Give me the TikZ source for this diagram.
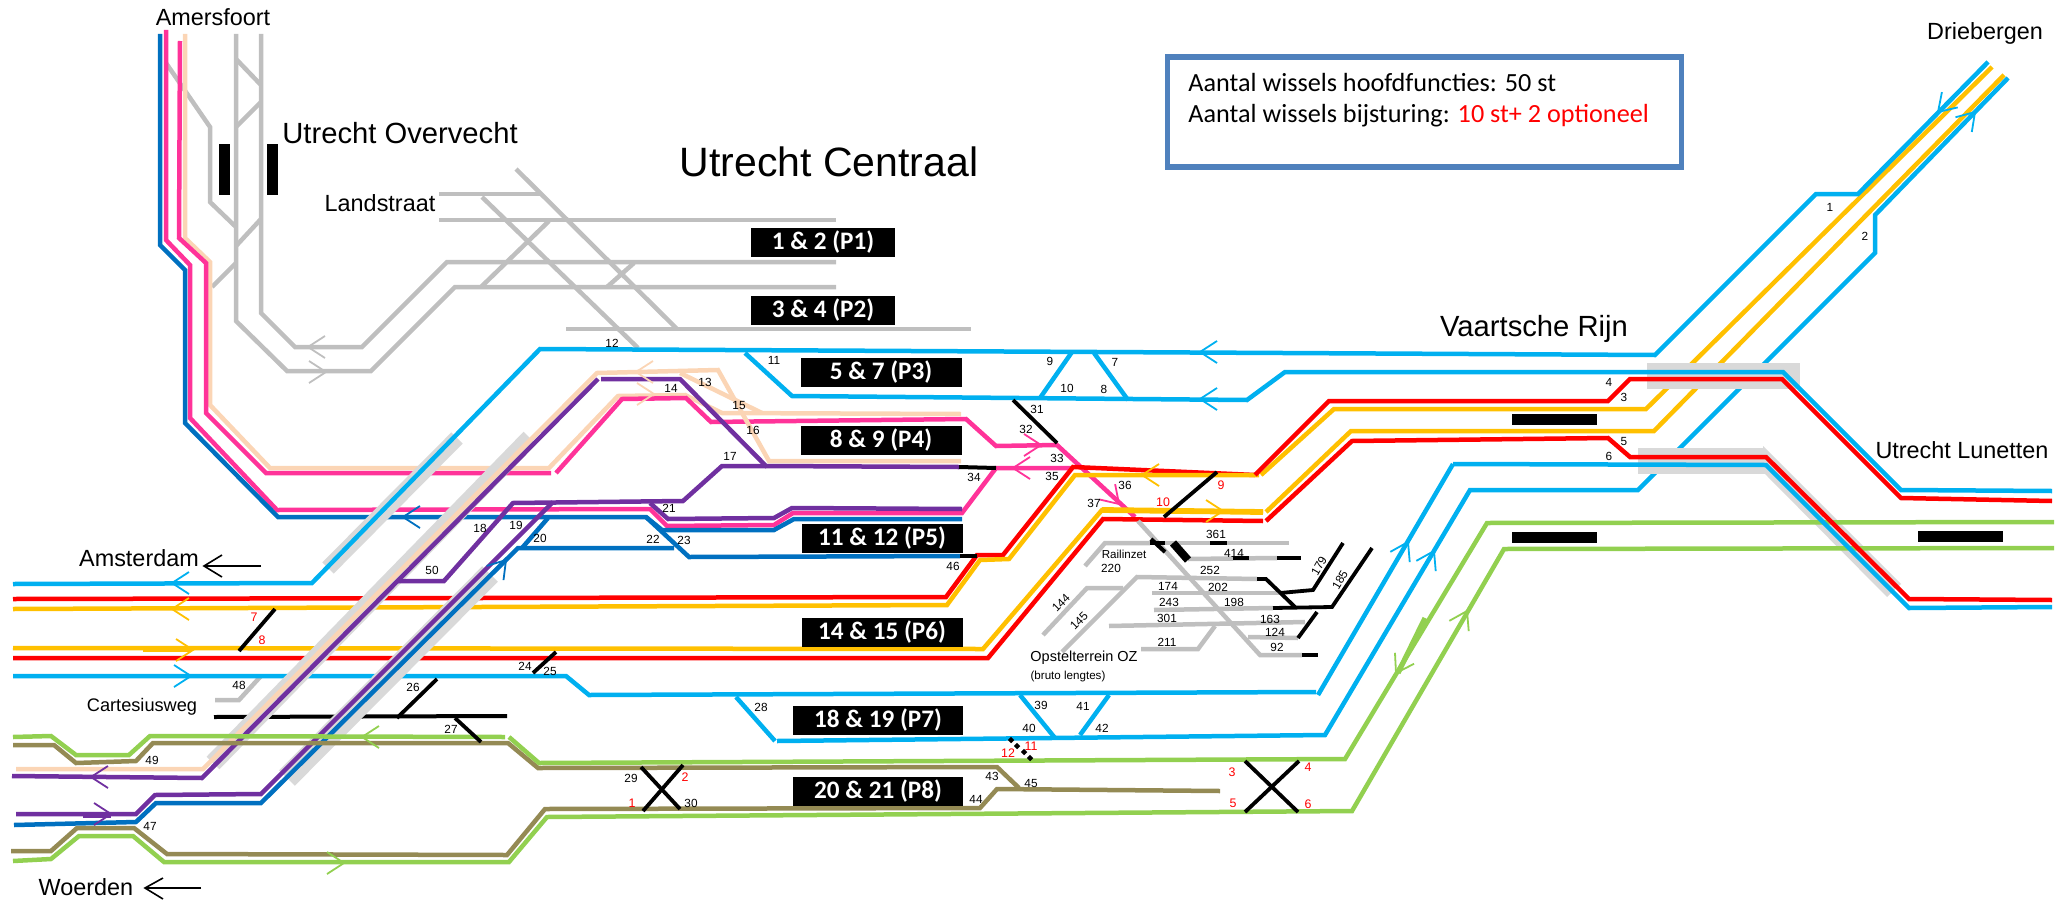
\documentclass[tikz,border=0pt]{standalone}
\usepackage{fontspec}
\usetikzlibrary{shapes.geometric}
\setmainfont{Liberation Sans}
\newfontfamily\calfont{Carlito}
\definecolor{lblue}{HTML}{00B0F0}
\definecolor{dblue}{HTML}{0070C0}
\definecolor{rose}{HTML}{FF3399}
\definecolor{peach}{HTML}{FBD5B5}
\definecolor{paars}{HTML}{7030A0}
\definecolor{rood}{HTML}{FF0000}
\definecolor{geel}{HTML}{FFC000}
\definecolor{groen}{HTML}{92D050}
\definecolor{olijf}{HTML}{948A54}
\definecolor{spoor}{HTML}{BFBFBF}
\definecolor{band}{HTML}{D9D9D9}
\definecolor{kader}{HTML}{4F81BD}

\begin{document}
\begin{tikzpicture}
	[x=0.5pt,y=-0.5pt,line join=miter,
		track/.style={line width=2.25pt},
		wissel/.style={line width=1.9pt,black},
		chevron/.style={line width=0.9pt},
		num/.style={inner sep=0pt,font=\fontsize{5.9}{7}\selectfont},
		rednum/.style={inner sep=0pt,text=rood,font=\fontsize{6.2}{7}\selectfont},
		place/.style={inner sep=0pt,font=\fontsize{11.7}{14}\selectfont},
		platform/.style={fill=black,text=white,inner sep=0pt,minimum height=14.5pt,font=\calfont\bfseries\fontsize{12.6}{15}\selectfont},
		halte/.style={fill=black,inner sep=0pt,minimum width=42.5pt,minimum height=5.5pt},
		diam/.style={diamond,fill=black,inner sep=0pt,minimum size=3.4pt}]
	\useasboundingbox (0,0) rectangle (2065,899);

	% grey tracks at the top
	\draw[spoor,track] (236,34) -- (236,321) -- (287,371) -- (371,371) -- (455,287) -- (836,287);
	\draw[spoor,track] (261,34) -- (261,313) -- (295,347) -- (362,347) -- (447,262) -- (836,262);
	\draw[spoor,track] (166,63) -- (210,127) -- (210,202) -- (236,227);
	\draw[spoor,track] (236,59) -- (261,85);
	\draw[spoor,track] (236,127) -- (261,102);
	\draw[spoor,track] (236,246) -- (261,219);
	\draw[spoor,track] (236,263) -- (212,287);
	\draw[spoor,track] (439,194) -- (540,194);
	\draw[spoor,track] (439,220) -- (836,220);
	\draw[spoor,track] (566,329) -- (971,329);
	\draw[spoor,track] (516,169) -- (677,329);
	\draw[spoor,track] (482,197) -- (638,348);
	\draw[spoor,track] (549,221) -- (481,287);
	\draw[spoor,track] (634,263) -- (607,287);
	\draw[spoor,track] (215,700) -- (239,700) -- (261,676);

	% lines that run under the grey bands
	\draw[peach,track] (185,34) -- (185,238) -- (210,262) -- (210,405) -- (270,468) -- (549,468) -- (618,396) -- (685,395) -- (722,413) -- (961,414);
	\draw[rose,track] (166,30) -- (166,240) -- (190,265) -- (190,418) -- (277,510) -- (650,509) -- (667,526) -- (774,525) -- (793,513) -- (962,513) -- (996,468) -- (1073,468);
	\draw[rose,track] (180,41) -- (179,238) -- (206,263) -- (206,413) -- (266,473) -- (551,473);
	\draw[rose,track] (556,473) -- (622,399) -- (686,398) -- (711,422) -- (966,419) -- (996,446) -- (1057,445) -- (1135,517);
	\draw[dblue,track] (160,34) -- (160,245) -- (185,270) -- (185,423) -- (278,517) -- (646,517) -- (689,557) -- (960,556);
	\draw[dblue,track] (646,517) -- (662,530) -- (774,530) -- (794,519) -- (962,519);
	\draw[rood,track] (13,599) -- (946,597) -- (977,555) -- (1003,555) -- (1073,467) -- (1255,475);
	\draw[rood,track] (13,658) -- (988,658) -- (1103,519) -- (1263,521);
	\draw[geel,track] (13,609) -- (947,605) -- (980,560) -- (1009,559) -- (1075,475) -- (1259,475);
	\draw[geel,track] (13,648) -- (983,649) -- (1102,510) -- (1263,512);
	\draw[geel,track] (1261,475) -- (1334,409) -- (1646,409) -- (1992,67);
	\draw[geel,track] (1266,512) -- (1351,431) -- (1654,431) -- (2004,75);
	\draw[lblue,track] (13,676) -- (566,676) -- (589,695) -- (1316,692);
	\draw[lblue,track] (1318,695) -- (1453,464);
	\draw[lblue,track] (777,741) -- (1325,735) -- (1470,490) -- (1638,490) -- (1875,253) -- (1875,215) -- (2008,78);
	\draw[black,line width=2pt] (214,717) -- (507,716);

	% grey bands
	\draw[band,line width=8pt] (328,568) -- (457,438);
	\draw[band,line width=9pt] (213,763) -- (530,438);
	\draw[band,line width=11pt] (287,778) -- (490,574);
	\fill[band] (1647,363) rectangle (1800,389);
	\fill[band] (1638,448) rectangle (1765,474);
	\fill[band] (1763,446) -- (1901,584) -- (1887,597) -- (1765,474) -- cycle;

	% lines on top of the bands
	\draw[lblue,track] (13,584) -- (312,583) -- (540,349) -- (1655,355) -- (1816,194) -- (1858,194) -- (1988,62);
	\draw[lblue,track] (745,353) -- (792,396) -- (1247,400) -- (1285,372) -- (1783,372) -- (1901,490) -- (2052,491);
	\draw[lblue,track] (1040,398) -- (1072,352);
	\draw[lblue,track] (1094,353) -- (1128,400);
	\draw[lblue,track] (736,697) -- (775,741);
	\draw[lblue,track] (1020,695) -- (1055,738);
	\draw[lblue,track] (1109,695) -- (1080,735);
	\draw[peach,track] (16,769) -- (203,769) -- (597,373) -- (718,370) -- (769,461) -- (961,461);
	\draw[peach,track] (680,373) -- (762,413);
	\draw[dblue,track] (14,825) -- (136,822) -- (156,803) -- (261,803) -- (518,548) -- (674,548);
	\draw[dblue,track] (522,548) -- (548,518);
	\draw[paars,track] (12,776) -- (202,778) -- (598,379);
	\draw[paars,track] (601,379) -- (680,379) -- (766,466) -- (959,467);
	\draw[paars,track] (397,581) -- (444,581) -- (513,503) -- (683,501) -- (722,466) -- (766,466);
	\draw[paars,track] (16,814) -- (136,814) -- (155,795) -- (261,794) -- (553,502);
	\draw[paars,track] (650,503) -- (668,519) -- (774,518) -- (792,508) -- (962,509);
	\draw[olijf,track] (13,745) -- (54,745) -- (76,763) -- (136,761) -- (153,743) -- (508,743) -- (538,768) -- (997,767) -- (1019,788);
	\draw[olijf,track] (11,851) -- (51,851) -- (77,828) -- (134,828) -- (167,854) -- (507,855) -- (545,809) -- (980,808) -- (997,789) -- (1220,791);
	\draw[groen,track] (13,737) -- (51,736) -- (76,755) -- (129,755) -- (150,736) -- (505,737);
	\draw[groen,track] (509,737) -- (539,763) -- (1345,759) -- (1487,523) -- (2054,522);
	\draw[groen,track] (13,861) -- (51,859) -- (79,836) -- (133,836) -- (164,862) -- (509,862) -- (547,817) -- (1352,811) -- (1504,549) -- (2054,548);
	\draw[lblue,track] (1453,464) -- (1766,465) -- (1909,608) -- (2052,607);
	\draw[rood,track] (1266,521) -- (1352,441) -- (1608,438) -- (1630,457) -- (1766,457) -- (1909,599) -- (2052,600);
	\draw[rood,track] (1255,475) -- (1329,401) -- (1608,401) -- (1630,379) -- (1782,379) -- (1901,498) -- (2052,501);

	% thicker bits at the arrows
	\draw[geel,line width=2.9pt] (143,649) -- (192,649);
	\draw[geel,line width=2.9pt] (1102,510) -- (1263,512);
	\draw[paars,line width=2.8pt] (83,815) -- (111,815);
	\draw[groen,line width=2.6pt] (1425,618) -- (1398,673);

	% arrow heads
	\foreach \c/\x/\y/\a in {spoor/308/347/180,spoor/326/372/0,peach/636/372/180,peach/654/394/0,
		dblue/403/517/180,lblue/172/583/180,geel/172/609/180,geel/193/650/0,lblue/191/676/0,
		paars/91/777/180,paars/111/814/0,groen/362/737/180,groen/344/863/0,dblue/506/560/50,
		lblue/1938/112/226,lblue/1975/112/48,lblue/1200/352/180,lblue/1200/399/180,
		rose/1041/445/0,rose/1013/468/180,rose/1119/504/-46,geel/1142/475/180,geel/1223/511/0,
		lblue/1408/542/62,lblue/1434/551/62,groen/1396/673/240,groen/1467/611/62}
		\draw[\c,chevron,shift={(\x,\y)},rotate=\a] (-17,-11) -- (0,0) -- (-17,11);

	% switches and crossings
	\draw[wissel] (275,609) -- (239,651);
	\draw[wissel] (437,679) -- (397,718);
	\draw[wissel] (455,718) -- (481,742);
	\draw[wissel] (556,652) -- (533,673);
	\draw[wissel] (641,767) -- (680,809);
	\draw[wissel] (683,765) -- (643,811);
	\draw[wissel] (1245,761) -- (1298,812);
	\draw[wissel] (1299,761) -- (1245,812);
	\draw[wissel] (1013,400) -- (1057,443);
	\draw[wissel,line width=2pt] (959,467) -- (996,468);
	\draw[wissel,line width=2pt] (960,556) -- (977,556);
	\draw[wissel] (1217,472) -- (1164,517);
	\foreach \x/\y in {1011/740,1017/746,1024/752,1030/758}
		\node[diam] (d\x) at (\x,\y) {};

	% yard
	\draw[spoor,track] (1138,521) -- (1260,655) -- (1302,655);
	\draw[spoor,track] (1085,566) -- (1105,543) -- (1150,543);
	\draw[spoor,track] (1165,543) -- (1289,543);
	\draw[spoor,track] (1188,559) -- (1277,558);
	\draw[spoor,track] (1062,652) -- (1137,577) -- (1257,579);
	\draw[spoor,track] (1043,635) -- (1087,588) -- (1123,588);
	\draw[spoor,track] (1152,593) -- (1280,593);
	\draw[spoor,track] (1154,610) -- (1273,608);
	\draw[spoor,track] (1109,626) -- (1305,622);
	\draw[spoor,track] (1248,637) -- (1298,638);
	\draw[spoor,track] (1141,649) -- (1198,649) -- (1215,626);
	\draw[wissel,line width=2pt] (1150,543) -- (1165,543);
	\draw[wissel,line width=2pt] (1151,539) -- (1165,552);
	\draw[wissel,line width=2pt] (1210,543) -- (1227,543);
	\draw[wissel,line width=4pt] (1173,543) -- (1188,560);
	\draw[wissel,line width=2pt] (1233,558) -- (1249,558);
	\draw[wissel,line width=2pt] (1277,558) -- (1301,558);
	\draw[wissel] (1257,579) -- (1266,579) -- (1295,607);
	\draw[wissel] (1280,593) -- (1313,590) -- (1343,543);
	\draw[wissel] (1273,608) -- (1332,607) -- (1372,548);
	\draw[wissel] (1298,638) -- (1317,612);
	\draw[wissel,line width=2pt] (1302,655) -- (1318,655);

	% station blocks
	\fill (219,144) rectangle (230,195);
	\fill (267,144) rectangle (278,195);
	\node[halte] (h1) at (1554,419) {};
	\node[halte] (h2) at (1554,537) {};
	\node[halte] (h3) at (1960,536) {};

	% platform labels
	\foreach \n/\x/\y/\w/\t in {p1/823/242/72/1 \& 2 (P1),p2/823/310/72/3 \& 4 (P2),p3/881/372/80.5/5 \& 7 (P3),
		p4/881/440/80.5/8 \& 9 (P4),p5/882/538/80.5/11 \& 12 (P5),p6/882/632/80.5/14 \& 15 (P6),
		p7/878/720/85/18 \& 19 (P7),p8/878/791/85/20 \& 21 (P8)}
		\node[platform,minimum width=\w pt] (\n) at (\x,\y) {\t};

	% numbers
	\foreach \x/\y/\t in {612/343/12,774/360/11,705/382/13,671/388/14,739/405/15,753/430/16,730/456/17,
		669/508/21,653/539/22,684/540/23,974/477/34,1050/361/9,1067/388/10,1037/409/31,1026/429/32,
		1057/458/33,1052/476/35,953/566/46,1094/503/37,1115/362/7,1104/389/8,1125/485/36,
		1830/207/1,1865/236/2,1609/382/4,1624/397/3,1624/441/5,1609/456/6,480/528/18,516/525/19,
		540/538/20,432/570/50,239/685/48,525/666/24,550/671/25,413/687/26,451/729/27,152/760/49,
		150/826/47,631/778/29,691/803/30,761/707/28,1041/705/39,1083/706/41,1029/728/40,1102/728/42,
		992/776/43,1031/783/45,976/799/44,1216/534/361,1234/553/414,1210/570/252,1168/586/174,
		1218/587/202,1169/602/243,1234/602/198,1167/618/301,1270/619/163,1275/632/124,1167/642/211,
		1277/647/92,1111/568/220}
		\node[num] (n\t) at (\x,\y) {\t};
	\foreach \x/\y/\t in {254/617/7,262/640/8,1221/485/9,1163/502/10,685/777/2,632/803/1,
		1031/746/11,1008/753/12,1232/772/3,1308/767/4,1233/803/5,1308/804/6}
		\node[rednum] (r\t) at (\x,\y) {\t};
	\node[num,rotate=45] (n144) at (1061,603) {144};
	\node[num,rotate=45] (n145) at (1079,621) {145};
	\node[num,rotate=60] (n179) at (1319,566) {179};
	\node[num,rotate=60] (n185) at (1340,580) {185};

	% place names
	\node[place] (amersfoort) at (213,17) {Amersfoort};
	\node[place,font=\fontsize{14.6}{18}\selectfont] (overvecht) at (400,133) {Utrecht Overvecht};
	\node[place] (landstraat) at (380,203) {Landstraat};
	\node[place,font=\fontsize{20.5}{24}\selectfont] (centraal) at (829,162) {Utrecht Centraal};
	\node[place,font=\fontsize{14.6}{17}\selectfont] (vaartsche) at (1534,329) {Vaartsche Rijn};
	\node[place] (driebergen) at (1985,33) {Driebergen};
	\node[place] (lunetten) at (1962,450) {Utrecht Lunetten};
	\node[place] (amsterdam) at (139,558) {Amsterdam};
	\node[place] (woerden) at (86,887) {Woerden};
	\node[place,font=\fontsize{9.1}{12}\selectfont] (cartesius) at (142,707) {Cartesiusweg};
	\node[inner sep=0pt,font=\fontsize{5.8}{7}\selectfont] (railinzet) at (1124,554) {Railinzet};
	\node[inner sep=0pt,font=\fontsize{7.25}{9}\selectfont] (opstel) at (1084,658) {Opstelterrein OZ};
	\node[inner sep=0pt,font=\fontsize{5.8}{7}\selectfont] (bruto) at (1068,676) {(bruto lengtes)};

	% the two black arrows
	\draw[line width=0.8pt] (261,566) -- (204,566);
	\draw[line width=0.8pt] (222,555) -- (204,566) -- (222,577);
	\draw[line width=0.8pt] (201,888) -- (145,888);
	\draw[line width=0.8pt] (163,878) -- (145,888) -- (163,899);

	% legend
	\node[draw=kader,line width=2.8pt,inner sep=0pt,minimum width=257pt,minimum height=55pt] (legend) at (1424.5,112) {};
	\node[anchor=west,inner sep=0pt,font=\calfont\fontsize{13.1}{16}\selectfont] (wissels) at (1188,83) {Aantal wissels hoofdfuncties: 50 st};
	\node[anchor=west,inner sep=0pt,font=\calfont\fontsize{13.1}{16}\selectfont] (bijsturing) at (1188,116) {Aantal wissels bijsturing: \textcolor{rood}{10 st+ 2 optioneel}};
\end{tikzpicture}
\end{document}
